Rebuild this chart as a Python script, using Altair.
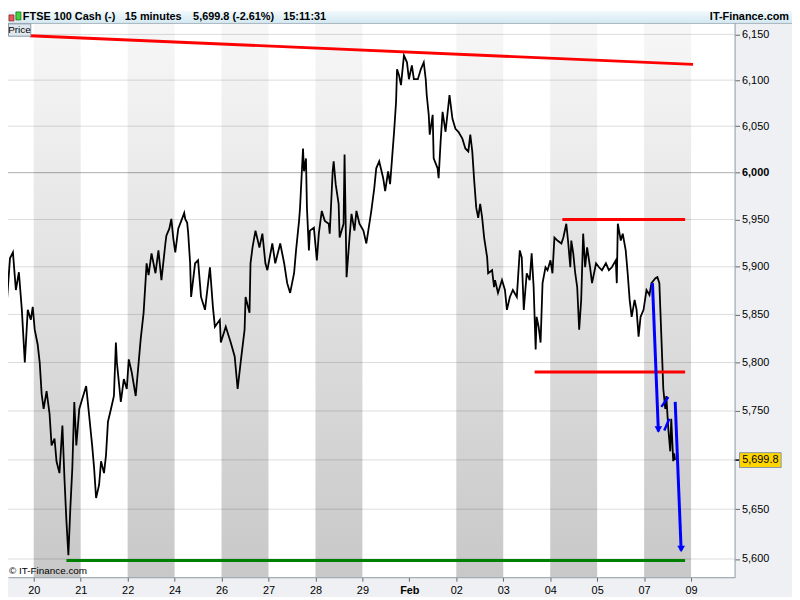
import json
import altair as alt
import pandas as pd

FONT = "Liberation Sans"

# ---------------- data ----------------
# time position in trading sessions (0 = "20", 1 = "21", ...), price (FTSE 100, 15 min)
session_pos = [
    -0.675, -0.611, -0.569, -0.506, -0.443, -0.380, -0.316, -0.253, -0.190, -0.127,
    -0.063, -0.021, 0.021, 0.084, 0.127, 0.169, 0.211, 0.274, 0.337, 0.380,
    0.443, 0.485, 0.548, 0.611, 0.654, 0.696, 0.738, 0.780, 0.822, 0.864,
    0.907, 0.970, 1.033, 1.117, 1.181, 1.244, 1.286, 1.328, 1.392, 1.434,
    1.497, 1.539, 1.581, 1.645, 1.708, 1.750, 1.771, 1.813, 1.855, 1.919,
    1.982, 2.024, 2.087, 2.172, 2.235, 2.277, 2.340, 2.383, 2.404, 2.446,
    2.509, 2.593, 2.656, 2.720, 2.804, 2.825, 2.888, 2.931, 2.973, 3.015,
    3.078, 3.142, 3.205, 3.226, 3.268, 3.289, 3.331, 3.352, 3.437, 3.500,
    3.563, 3.648, 3.753, 3.816, 3.858, 3.964, 3.985, 4.090, 4.196, 4.280,
    4.343, 4.407, 4.491, 4.512, 4.596, 4.617, 4.660, 4.723, 4.807, 4.870,
    4.934, 4.976, 5.081, 5.144, 5.250, 5.334, 5.398, 5.461, 5.545, 5.587,
    5.651, 5.672, 5.735, 5.756, 5.798, 5.819, 5.861, 5.882, 5.967, 6.030,
    6.072, 6.135, 6.199, 6.283, 6.304, 6.367, 6.388, 6.431, 6.494, 6.515,
    6.599, 6.620, 6.663, 6.726, 6.768, 6.831, 6.873, 6.937, 7.021, 7.084,
    7.126, 7.190, 7.253, 7.295, 7.358, 7.443, 7.485, 7.548, 7.590, 7.632,
    7.675, 7.717, 7.738, 7.780, 7.822, 7.885, 7.949, 7.991, 8.054, 8.096,
    8.181, 8.244, 8.307, 8.349, 8.370, 8.413, 8.434, 8.497, 8.518, 8.602,
    8.623, 8.666, 8.708, 8.771, 8.855, 8.918, 8.982, 9.045, 9.129, 9.193,
    9.256, 9.298, 9.340, 9.382, 9.425, 9.467, 9.509, 9.551, 9.593, 9.657,
    9.678, 9.762, 9.804, 9.825, 9.888, 9.973, 10.036, 10.078, 10.141, 10.205,
    10.289, 10.352, 10.394, 10.437, 10.500, 10.563, 10.605, 10.647, 10.690, 10.711,
    10.753, 10.795, 10.837, 10.900, 10.943, 11.006, 11.048, 11.090, 11.154, 11.238,
    11.280, 11.343, 11.385, 11.428, 11.449, 11.491, 11.533, 11.575, 11.617, 11.660,
    11.702, 11.744, 11.786, 11.849, 11.891, 11.976, 12.039, 12.102, 12.186, 12.250,
    12.313, 12.397, 12.418, 12.440, 12.503, 12.545, 12.608, 12.650, 12.692, 12.735,
    12.798, 12.840, 12.882, 12.925, 12.988, 13.051, 13.114, 13.156, 13.241, 13.283,
    13.325, 13.346, 13.388, 13.409, 13.451, 13.473, 13.515, 13.557, 13.578, 13.620,
    13.641, 13.660,
]
price = [
    5870.4, 5886.0, 5865.2, 5908.9, 5915.2, 5875.6, 5894.3, 5854.8, 5800.1, 5854.8,
    5844.4, 5857.9, 5834.1, 5818.7, 5800.1, 5767.4, 5752.1, 5770.5, 5747.1, 5714.7,
    5721.8, 5698.6, 5686.5, 5735.0, 5681.5, 5638.5, 5603.7, 5651.4, 5691.6, 5759.3,
    5714.7, 5752.1, 5762.3, 5775.6, 5745.1, 5714.7, 5691.6, 5661.4, 5674.5, 5698.6,
    5686.5, 5704.6, 5739.0, 5752.1, 5765.4, 5820.7, 5800.1, 5779.7, 5759.3, 5782.8,
    5772.6, 5803.2, 5789.9, 5765.4, 5800.1, 5823.8, 5851.7, 5886.0, 5903.7, 5891.2,
    5914.1, 5893.2, 5917.3, 5886.0, 5924.6, 5932.9, 5940.3, 5950.7, 5929.8, 5915.2,
    5940.3, 5948.6, 5957.1, 5950.7, 5946.5, 5936.1, 5903.7, 5868.3, 5903.7, 5906.8,
    5868.3, 5854.8, 5899.5, 5857.9, 5837.2, 5844.4, 5820.7, 5837.2, 5820.7, 5806.3,
    5772.6, 5800.1, 5834.1, 5868.3, 5851.7, 5903.7, 5920.4, 5938.2, 5920.4, 5935.0,
    5903.7, 5896.4, 5924.6, 5903.7, 5924.6, 5903.7, 5882.8, 5872.5, 5893.2, 5917.3,
    5948.6, 5962.4, 6026.0, 6001.5, 6015.3, 5962.4, 5917.3, 5938.2, 5941.3, 5906.8,
    5935.0, 5959.2, 5948.6, 5945.5, 5935.0, 6001.5, 6012.1, 5987.7, 5966.6, 5930.9,
    5945.5, 6019.6, 5889.1, 5930.9, 5956.0, 5938.2, 5959.2, 5945.5, 5938.2, 5924.6,
    5938.2, 5959.2, 5983.5, 6004.7, 6012.1, 5994.1, 5980.3, 6001.5, 5987.7, 6015.3,
    6044.0, 6076.2, 6111.8, 6105.3, 6094.5, 6126.9, 6119.4, 6101.0, 6116.1, 6101.0,
    6101.0, 6111.8, 6119.4, 6101.0, 6083.8, 6062.3, 6040.9, 6062.3, 6015.3, 6004.7,
    5994.1, 6033.4, 6065.5, 6044.0, 6083.8, 6058.0, 6047.2, 6044.0, 6036.6, 6026.0,
    6022.8, 6040.9, 6022.8, 5990.9, 5962.4, 5951.8, 5966.6, 5951.8, 5930.9, 5909.9,
    5893.2, 5896.4, 5878.7, 5886.0, 5872.5, 5886.0, 5875.6, 5854.8, 5868.3, 5875.6,
    5868.3, 5917.3, 5909.9, 5854.8, 5893.2, 5886.0, 5914.1, 5878.7, 5813.5, 5847.5,
    5837.2, 5820.7, 5882.8, 5899.5, 5896.4, 5906.8, 5893.2, 5930.9, 5927.7, 5924.6,
    5930.9, 5945.5, 5924.6, 5899.5, 5927.7, 5914.1, 5893.2, 5878.7, 5834.1, 5865.2,
    5935.0, 5899.5, 5920.4, 5899.5, 5882.8, 5903.7, 5899.5, 5896.4, 5903.7, 5896.4,
    5899.5, 5906.8, 5882.8, 5945.5, 5927.7, 5935.0, 5917.3, 5893.2, 5865.2, 5847.5,
    5865.2, 5854.8, 5826.9, 5847.5, 5854.8, 5875.6, 5870.4, 5882.8, 5888.0, 5889.1,
    5882.8, 5854.8, 5800.1, 5772.6, 5752.1, 5765.4, 5731.9, 5708.7, 5742.0, 5698.6,
    5706.7, 5699.8,
]

tick_pos = list(range(15))
tick_labels = ["20", "21", "22", "24", "26", "27", "28", "29", "Feb",
               "02", "03", "04", "05", "07", "09"]
band_start = [0, 2, 4, 6, 9, 11, 13]
band_end = [1, 3, 5, 7, 10, 12, 14]
grid_levels = [5600, 5650, 5700, 5750, 5800, 5850, 5900, 5950, 6000, 6050, 6100, 6150]
last_price = 5699.8

# drawn trend lines / arrows: start (x1,y1) -> end (x2,y2)
seg_x1 = [-0.084, 11.259, 10.669, 0.696, 13.178, 13.367, 13.430, 13.662]
seg_y1 = [6148.6, 5950.0, 5790.2, 5598.4, 5882.8, 5754.2, 5729.9, 5759.3]
seg_x2 = [14.042, 13.873, 13.873, 13.873, 13.304, 13.515, 13.536, 13.789]
seg_y2 = [6117.2, 5950.0, 5790.2, 5598.4, 5728.9, 5764.4, 5742.0, 5608.6]
seg_color = ["#ff0000", "#ff0000", "#ff0000", "#008000",
             "#0000ff", "#0000ff", "#0000ff", "#0000ff"]
seg_width = [3, 3, 3, 3, 3, 2.5, 2.5, 3]
head_x = [13.304, 13.789]
head_y = [5731.0, 5610.0]

header_texts = ["FTSE 100 Cash (-)", "15 minutes", "5,699.8 (-2.61%)", "15:11:31"]
header_x = [15, 118, 187, 278]

# ---------------- layout ----------------
W, H = 734, 560
TOTAL_W = 792
HEAD = 12

price_df = pd.DataFrame({"t": session_pos, "p": price})
bands_df = pd.DataFrame({"start": band_start, "end": band_end})
grid_df = pd.DataFrame({"level": grid_levels})
seg_df = pd.DataFrame({"x1": seg_x1, "y1": seg_y1, "x2": seg_x2, "y2": seg_y2,
                       "c": seg_color, "w": seg_width})
head_df = pd.DataFrame({"t": head_x, "p": head_y})
last_df = pd.DataFrame({"p": [last_price], "txt": ["5,699.8"]})
one = pd.DataFrame({"a": [0]})

x_scale = alt.Scale(domain=[-0.548, 14.927], nice=False, zero=False)
y_scale = alt.Scale(type="log", domain=[5581.8, 6162.7], nice=False, zero=False)

x_axis = alt.Axis(
    values=tick_pos,
    labelExpr=json.dumps(tick_labels).replace('"', "'") + "[datum.value]",
    title=None, grid=False, orient="bottom",
    domainColor="#8f9ba6", tickColor="#666666", tickSize=4,
    labelFont=FONT, labelFontSize=11, labelColor="#000000", labelPadding=3,
    labelFlush=False, labelOverlap=False,
    labelFontWeight={"condition": {"test": "datum.value === 8", "value": "bold"},
                     "value": "normal"},
    zindex=1,
)
y_axis = alt.Axis(
    values=[v for v in grid_levels if v != 5700],
    format=",.0f", title=None, grid=False, orient="right",
    domainColor="#8f9ba6", tickColor="#666666", tickSize=5,
    labelFont=FONT, labelFontSize=11, labelColor="#000000", labelPadding=2,
    labelFlush=False, labelOverlap=False,
    labelFontWeight={"condition": {"test": "datum.value === 6000", "value": "bold"},
                     "value": "normal"},
    zindex=1,
)

band_grad = alt.LinearGradient(
    gradient="linear",
    stops=[alt.GradientStop(color="#f7f7f7", offset=0),
           alt.GradientStop(color="#c8c8c8", offset=1)],
    x1=0, x2=0, y1=0, y2=1,
)
head_grad = alt.LinearGradient(
    gradient="linear",
    stops=[alt.GradientStop(color="#f2f9fc", offset=0),
           alt.GradientStop(color="#d3e9f3", offset=1)],
    x1=0, x2=0, y1=0, y2=1,
)

bands = alt.Chart(bands_df).mark_rect(color=band_grad).encode(
    x=alt.X("start:Q", scale=x_scale, axis=x_axis),
    x2="end:Q",
    y=alt.value(0), y2=alt.value(H),
)

grid = alt.Chart(grid_df).mark_rule(color="#000000", strokeWidth=1).encode(
    y=alt.Y("level:Q", scale=y_scale, axis=y_axis),
    opacity=alt.condition(alt.datum.level == 6000, alt.value(0.33), alt.value(0.14)),
)

line = alt.Chart(price_df).mark_line(
    color="#000000", strokeWidth=1.8, strokeJoin="miter", clip=True
).encode(
    x=alt.X("t:Q", scale=x_scale, axis=x_axis),
    y=alt.Y("p:Q", scale=y_scale, axis=y_axis),
)

segs = alt.Chart(seg_df).mark_rule(clip=True).encode(
    x=alt.X("x1:Q", scale=x_scale, axis=x_axis),
    x2="x2:Q",
    y=alt.Y("y1:Q", scale=y_scale, axis=y_axis),
    y2="y2:Q",
    color=alt.Color("c:N", scale=None),
    strokeWidth=alt.StrokeWidth("w:Q", scale=None),
)

heads = alt.Chart(head_df).mark_point(
    shape="triangle-down", filled=True, size=60, color="#0000ff", opacity=1
).encode(
    x=alt.X("t:Q", scale=x_scale, axis=x_axis),
    y=alt.Y("p:Q", scale=y_scale, axis=y_axis),
)

right_panel = alt.Chart(one).mark_rect(color="#eef0f3").encode(
    x=alt.value(W), x2=alt.value(TOTAL_W), y=alt.value(0), y2=alt.value(H + 20))
bottom_panel = alt.Chart(one).mark_rect(color="#eef0f3").encode(
    x=alt.value(0), x2=alt.value(TOTAL_W), y=alt.value(H), y2=alt.value(H + 20))
header_bg = alt.Chart(one).mark_rect(color=head_grad).encode(
    x=alt.value(0), x2=alt.value(TOTAL_W), y=alt.value(-HEAD), y2=alt.value(0))
header_line = alt.Chart(one).mark_rule(color="#9fafba", strokeWidth=1).encode(
    x=alt.value(0), x2=alt.value(TOTAL_W), y=alt.value(0.5))

# small candle icon in the header
icon_red = alt.Chart(one).mark_rect(fill="#e25a5a", stroke="#a02020", strokeWidth=0.8).encode(
    x=alt.value(1), x2=alt.value(6), y=alt.value(-8), y2=alt.value(-2))
icon_green = alt.Chart(one).mark_rect(fill="#45d045", stroke="#107010", strokeWidth=0.8).encode(
    x=alt.value(8), x2=alt.value(13), y=alt.value(-11), y2=alt.value(-3))

header_layers = []
for txt, hx in zip(header_texts, header_x):
    header_layers.append(
        alt.Chart(one).mark_text(
            text=txt, align="left", baseline="alphabetic", font=FONT,
            fontSize=11, fontWeight="bold", color="#000000"
        ).encode(x=alt.value(hx), y=alt.value(-3))
    )
header_layers.append(
    alt.Chart(one).mark_text(
        text="IT-Finance.com", align="right", baseline="alphabetic", font=FONT,
        fontSize=11, fontWeight="bold", color="#000000"
    ).encode(x=alt.value(789), y=alt.value(-3))
)

price_box = alt.Chart(one).mark_rect(fill="#dfe7ee", stroke="#8a9aa8", strokeWidth=1).encode(
    x=alt.value(0.5), x2=alt.value(23), y=alt.value(1), y2=alt.value(13.5))
price_txt = alt.Chart(one).mark_text(
    text="Price", align="center", baseline="middle", font=FONT, fontSize=10, color="#000000"
).encode(x=alt.value(11.5), y=alt.value(7.5))

copyright_txt = alt.Chart(one).mark_text(
    text="© IT-Finance.com", align="left", baseline="middle", font=FONT,
    fontSize=10, color="#000000"
).encode(x=alt.value(1), y=alt.value(554))

last_tick = alt.Chart(last_df).mark_rule(color="#000000", strokeWidth=1.5).encode(
    x=alt.value(W), x2=alt.value(W + 5),
    y=alt.Y("p:Q", scale=y_scale, axis=y_axis),
)
last_box = alt.Chart(last_df).mark_point(
    shape="M-1,-0.357L1,-0.357L1,0.357L-1,0.357Z", size=1764, filled=True,
    fill="#ffd500", stroke="#8796a8", strokeWidth=1, opacity=1
).encode(
    x=alt.value(760),
    y=alt.Y("p:Q", scale=y_scale, axis=y_axis),
)
last_txt = alt.Chart(last_df).mark_text(
    align="center", baseline="middle", font=FONT, fontSize=11, color="#000000"
).encode(
    x=alt.value(760),
    y=alt.Y("p:Q", scale=y_scale, axis=y_axis),
    text="txt:N",
)

chart = alt.layer(
    bands, grid, line, segs, heads,
    right_panel, bottom_panel, header_bg, header_line,
    icon_red, icon_green, *header_layers,
    price_box, price_txt, copyright_txt,
    last_tick, last_box, last_txt,
).properties(
    width=W, height=H,
    padding={"left": 0, "top": HEAD, "right": TOTAL_W - W, "bottom": 20},
    autosize=alt.AutoSizeParams(type="none"),
    background="#ffffff",
).configure_view(stroke=None)

chart.save("out.html", embed_options={"renderer": "svg", "actions": False})
